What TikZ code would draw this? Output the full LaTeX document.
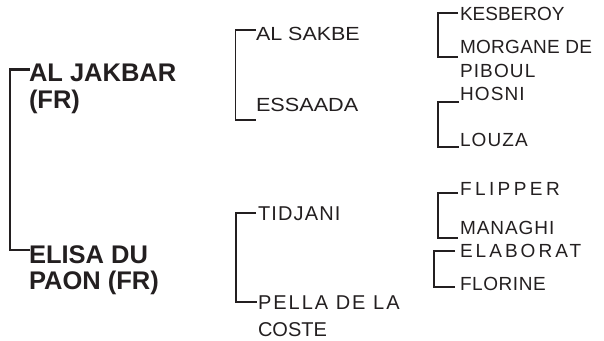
\documentclass[tikz,border=0pt]{standalone}
\usepackage{fontspec}
\setmainfont{Liberation Sans}
\newcommand\lsp[2]{{\addfontfeature{LetterSpace=#1}#2}}
\newcommand\wid[2]{{\addfontfeature{FakeStretch=#1}#2}}
\newcommand\twol[2]{\begin{tabular}[t]{@{}l@{}}#1\\#2\end{tabular}}
\definecolor{ink}{HTML}{231F20}
\begin{document}
\begin{tikzpicture}[x=1pt,y=-1pt,
  every node/.style={inner sep=0pt, outer sep=0pt, anchor=base west, text=ink},
  n1/.style={font=\fontsize{25.5}{26.6}\selectfont\bfseries},
  n2/.style={font=\fontsize{20}{27}\selectfont},
  n2t/.style={font=\fontsize{19}{27}\selectfont},
  n3/.style={font=\fontsize{19}{24}\selectfont},
  b1/.style={draw=ink, line width=2.1pt},
  b2/.style={draw=ink, line width=1.7pt},
]
\useasboundingbox (0,0) rectangle (604,340);
% level 1
\node[n1] (jakbar) at (29,81.7) {\twol{AL JAKBAR}{(FR)}};
\node[n1] (elisa) at (29,263) {\twol{ELISA DU}{PAON (FR)}};
\coordinate (c1a) at (29.5,69.5);
\coordinate (c1b) at (29.5,250);
\draw[b1] (c1a) -- ++(-19.5,0) |- (c1b);
% level 2
\node[n2t] (sakbe) at (256,40.7) {\wid{1.13}{AL SAKBE}};
\node[n2t] (essaada) at (256,111) {\wid{1.14}{ESSAADA}};
\coordinate (c2a) at (256,30);
\coordinate (c2b) at (256,120);
\draw[b2] (c2a) -- ++(-20.5,0) |- (c2b);
\node[n2] (tidjani) at (258,220) {\lsp{5.7}{TIDJANI}};
\node[n2] (pella) at (258,309) {\twol{\lsp{10}{PELLA DE LA}}{COSTE}};
\coordinate (c2c) at (256,213);
\coordinate (c2d) at (257,302);
\draw[b2] (c2c) -- ++(-20,0) |- (c2d);
% level 3
\node[n3] (kesberoy) at (460,20.7) {KESBEROY};
\node[n3] (morgane) at (460,53.3) {\twol{\lsp{1.5}{MORGANE DE}}{\lsp{6}{PIBOUL}}};
\coordinate (c3a) at (458,13);
\coordinate (c3b) at (458,57);
\draw[b2] (c3a) -- ++(-19.7,0) |- (c3b);
\node[n3] (hosni) at (460,100) {\lsp{6}{HOSNI}};
\node[n3] (louza) at (460,146.7) {\lsp{6}{LOUZA}};
\coordinate (c3c) at (459,102);
\coordinate (c3d) at (459,147);
\draw[b2] (c3c) -- ++(-20.7,0) |- (c3d);
\node[n3] (flipper) at (460,195) {\lsp{18}{FLIPPER}};
\node[n3] (managhi) at (460,234) {\lsp{5}{MANAGHI}};
\coordinate (c3e) at (458,193);
\coordinate (c3f) at (458,238);
\draw[b2] (c3e) -- ++(-20,0) |- (c3f);
\node[n3] (elaborat) at (460,257.3) {\lsp{16}{ELABORAT}};
\node[n3] (florine) at (460,290.7) {\lsp{3}{FLORINE}};
\coordinate (c3g) at (455,251);
\coordinate (c3h) at (455,287);
\draw[b2] (c3g) -- ++(-21,0) |- (c3h);
\end{tikzpicture}
\end{document}
